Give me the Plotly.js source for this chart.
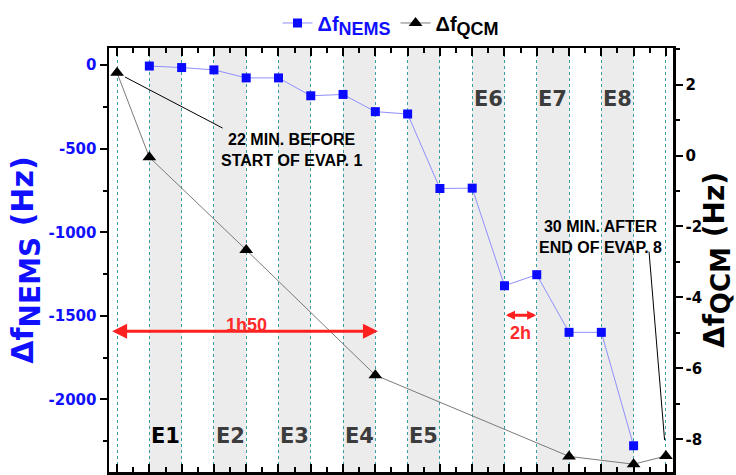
<!DOCTYPE html>
<html>
<head>
<meta charset="utf-8">
<script src="https://cdn.plot.ly/plotly-3.0.1.min.js"></script>
<style>html,body{margin:0;padding:0;background:#fff;}#chart{width:736px;height:475px;}</style>
</head>
<body>
<div id="chart"></div>
<script>
// ---- data ----
const nemsX = [1, 2, 3, 4, 5, 6, 7, 8, 9, 10, 11, 12, 13, 14, 15, 16];
const nemsY = [-5, -14, -28, -76, -76, -183, -175, -278, -292, -738, -736, -1320, -1254, -1599, -1599, -2278];
const qcmX = [0, 1, 4, 8, 14, 16, 17];
const qcmY = [2.33, -0.05, -2.66, -6.19, -8.48, -8.70, -8.47];
const bandStart = [1, 3, 5, 7, 9, 11, 13, 15];
const bandEnd = [2, 4, 6, 8, 10, 12, 14, 16];
const bandLabels = ['E1', 'E2', 'E3', 'E4', 'E5', 'E6', 'E7', 'E8'];
const bandLabelPos = ['bottom', 'bottom', 'bottom', 'bottom', 'bottom', 'top', 'top', 'top'];
const leftTicks = [0, -500, -1000, -1500, -2000];
const leftTickText = ['0', '-500', '-1000', '-1500', '-2000'];
const rightTicks = [2, 0, -2, -4, -6, -8];
const rightTickText = ['2', '0', '-2', '-4', '-6', '-8'];
const span1 = {from: -0.2, to: 8.08, y: -1593, label: '1h50', labelX: 4, labelY: -1555, headSize: 1};
const span2 = {from: 12.0, to: 12.98, y: -1496, label: '2h', labelX: 12.5, labelY: -1600, headSize: 0.6};
const note1 = {text: '22 MIN. BEFORE<br>START OF EVAP. 1', x: 5.4, y: 0.15, ptIndex: 0};
const note2 = {text: '30 MIN. AFTER<br>END OF EVAP. 8', x: 14.97, y: -2.29, ptIndex: 6};

function subTxt(main, sub, px) {
  return main + '<sub><span style="font-size:' + px + 'px">' + sub + '</span></sub>';
}

const traces = [
  {
    x: nemsX, y: nemsY, xaxis: 'x', yaxis: 'y', mode: 'lines+markers',
    name: '<span style="color:#1010ff">' + subTxt('Δf', 'NEMS', 18) + '</span>',
    line: {color: '#8f8fff', width: 1},
    marker: {symbol: 'square', size: 9, color: '#0a0aff'}
  },
  {
    x: qcmX, y: qcmY, xaxis: 'x', yaxis: 'y2', mode: 'lines+markers',
    name: subTxt('Δf', 'QCM', 18),
    line: {color: '#7a7a7a', width: 1},
    marker: {symbol: 'triangle-up', size: 12, color: '#000'}
  }
];

const shapes = bandStart.map((s, i) => ({
  type: 'rect', xref: 'x', yref: 'paper', x0: s, x1: bandEnd[i], y0: 0, y1: 1,
  fillcolor: '#ececec', line: {width: 0}, layer: 'below'
}));

const annotations = [];
bandLabels.forEach((t, i) => {
  annotations.push({
    text: '<b>' + t + '</b>', xref: 'x', yref: 'paper',
    x: (bandStart[i] + bandEnd[i]) / 2,
    y: bandLabelPos[i] === 'bottom' ? 0.052 : 0.912,
    showarrow: false,
    font: {family: 'DejaVu Sans, sans-serif', size: 21, color: i === 0 ? '#000' : '#3c3c3c'}
  });
});
// red double arrows
[span1, span2].forEach(s => {
  annotations.push({
    text: '', xref: 'x', yref: 'y', x: s.to, y: s.y, axref: 'x', ayref: 'y', ax: s.from, ay: s.y,
    showarrow: true, arrowside: 'end+start', arrowhead: 2, arrowsize: s.headSize, arrowwidth: 3,
    arrowcolor: '#ff2020', standoff: 0, startstandoff: 0
  });
  annotations.push({
    text: '<b>' + s.label + '</b>', xref: 'x', yref: 'y', x: s.labelX, y: s.labelY,
    showarrow: false, font: {family: 'Liberation Sans, Arial, sans-serif', size: 18, color: '#ff2a2a'}
  });
});
// text notes
const noteFont = {family: 'Liberation Sans, Arial, sans-serif', size: 16, color: '#000', weight: 'bold'};
[note1, note2].forEach(n => {
  annotations.push({
    text: n.text, xref: 'x', yref: 'y2', x: n.x, y: n.y,
    showarrow: false, font: noteFont
  });
});
// leader lines to QCM points
annotations.push({
  text: '', xref: 'x', yref: 'y2', x: qcmX[note1.ptIndex], y: qcmY[note1.ptIndex],
  ax: 107, ay: 56, showarrow: true, arrowhead: 0, arrowwidth: 1, arrowcolor: '#000', standoff: 9
});
annotations.push({
  text: '', xref: 'x', yref: 'y2', x: qcmX[note2.ptIndex], y: qcmY[note2.ptIndex],
  ax: -17, ay: -206, showarrow: true, arrowhead: 0, arrowwidth: 1, arrowcolor: '#000', standoff: 16
});

const layout = {
  width: 736, height: 475,
  margin: {l: 109, r: 63, t: 46, b: 3},
  paper_bgcolor: '#fff', plot_bgcolor: '#fff',
  showlegend: true,
  legend: {
    orientation: 'h', x: 0.5, xanchor: 'center', y: 1.105, yanchor: 'top',
    font: {family: 'Liberation Sans, Arial, sans-serif', size: 20, color: '#000', weight: 'bold'},
    bgcolor: 'rgba(0,0,0,0)', itemwidth: 30, tracegroupgap: 0
  },
  xaxis: {
    range: [-0.25, 17.22], showticklabels: false,
    tick0: 0, dtick: 1, ticks: 'inside', ticklen: 8, tickwidth: 2, tickcolor: '#000',
    minor: {tick0: 0.5, dtick: 1, ticks: 'inside', ticklen: 5, tickwidth: 2, tickcolor: '#000', showgrid: false},
    showline: true, linewidth: 2.5, linecolor: '#000', mirror: 'ticks',
    showgrid: true, gridcolor: '#3a9e9e', griddash: 'dot', gridwidth: 1,
    zeroline: false
  },
  yaxis: {
    range: [-2435, 103], tickmode: 'array', tickvals: leftTicks, ticktext: leftTickText,
    ticks: 'outside', ticklen: 7, tickwidth: 2, tickcolor: '#000',
    minor: {dtick: 250, ticks: 'outside', ticklen: 4, tickwidth: 2, tickcolor: '#000', showgrid: false},
    showline: true, linewidth: 2.5, linecolor: '#000',
    showgrid: false, zeroline: false,
    tickfont: {family: 'DejaVu Sans, Arial, sans-serif', size: 15, color: '#1010ff', weight: 'bold'},
    title: {text: subTxt('Δf', 'NEMS', 28) + ' (Hz)', standoff: 6,
      font: {family: 'DejaVu Sans, sans-serif', size: 30, color: '#1010ff', weight: 'bold'}}
  },
  yaxis2: {
    overlaying: 'y', side: 'right',
    range: [-8.92, 3.03], tickmode: 'array', tickvals: rightTicks, ticktext: rightTickText,
    ticks: 'outside', ticklen: 7, tickwidth: 2, tickcolor: '#000',
    minor: {dtick: 1, ticks: 'outside', ticklen: 4, tickwidth: 2, tickcolor: '#000', showgrid: false},
    showline: true, linewidth: 2.5, linecolor: '#000',
    showgrid: false, zeroline: false,
    tickfont: {family: 'DejaVu Sans, Arial, sans-serif', size: 15, color: '#000', weight: 'bold'},
    title: {text: subTxt('Δf', 'QCM', 26) + ' (Hz)', standoff: 3,
      font: {family: 'DejaVu Sans, sans-serif', size: 28, color: '#000', weight: 'bold'}}
  },
  shapes: shapes,
  annotations: annotations
};

Plotly.newPlot('chart', traces, layout, {displayModeBar: false, staticPlot: true});
</script>
</body>
</html>
